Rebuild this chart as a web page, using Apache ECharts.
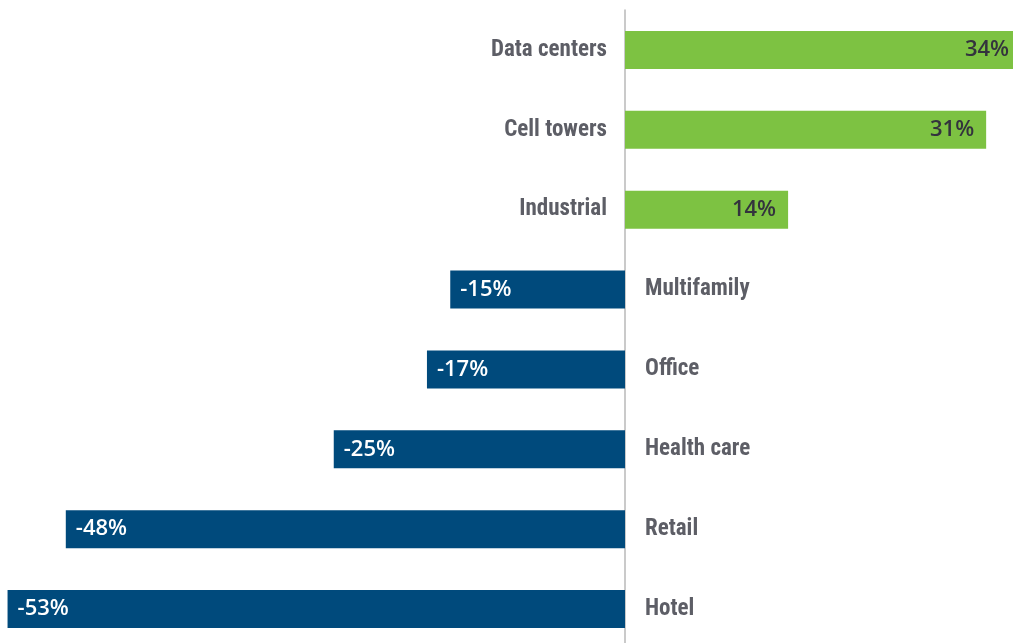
<!DOCTYPE html>
<html>
<head>
<meta charset="utf-8">
<script src="https://cdn.jsdelivr.net/npm/echarts@6/dist/echarts.min.js"></script>
<style>
html,body{margin:0;padding:0;background:#fff;}
#chart{width:1013px;height:643px;}
</style>
</head>
<body>
<div id="chart"></div>
<script>
const categories = ['Data centers', 'Cell towers', 'Industrial', 'Multifamily', 'Office', 'Health care', 'Retail', 'Hotel'];
const values = [34, 31, 14, -15, -17, -25, -48, -53];

const posColor = '#7dc242';
const negColor = '#004a7c';
const catFont = '"Roboto Condensed", "Liberation Sans Narrow", Roboto, sans-serif';
const valFont = '"Open Sans", "Noto Sans", sans-serif';

const valueData = values.map(v => ({
  value: v,
  itemStyle: { color: v >= 0 ? posColor : negColor },
  label: v >= 0
    ? { position: 'insideRight', distance: 12, color: '#33333d' }
    : { position: 'insideLeft', distance: 10, color: '#ffffff' }
}));

const nameData = values.map((v, i) => ({
  value: v,
  name: categories[i],
  label: v >= 0
    ? { position: 'left', distance: 18 }
    : { position: 'right', distance: 20 }
}));

const chart = echarts.init(document.getElementById('chart'), null, { renderer: 'canvas' });
chart.setOption({
  animation: false,
  grid: { left: -4.1, right: -8.1, top: 10, bottom: -6, containLabel: false, outerBoundsMode: 'none' },
  xAxis: {
    type: 'value', min: -54, max: 34,
    show: false, splitLine: { show: false }
  },
  yAxis: {
    type: 'category', data: categories, inverse: true,
    axisLine: { show: true, onZero: true, lineStyle: { color: '#b8b8b8', width: 1.5 } },
    axisTick: { show: false },
    axisLabel: { show: false }
  },
  series: [
    {
      type: 'bar',
      data: valueData,
      barWidth: 38,
      clip: false,
      z: 2,
      label: {
        show: true,
        fontFamily: valFont,
        fontWeight: 600,
        fontSize: 22,
        formatter: p => p.value + '%'
      }
    },
    {
      type: 'bar',
      data: nameData,
      barWidth: 38,
      barGap: '-100%',
      clip: false,
      silent: true,
      z: 3,
      itemStyle: { color: 'rgba(0,0,0,0)' },
      label: {
        show: true,
        fontFamily: catFont,
        fontWeight: 'bold',
        fontSize: 23,
        color: '#5d5e66',
        formatter: p => categories[p.dataIndex]
      }
    }
  ]
});
</script>
</body>
</html>
